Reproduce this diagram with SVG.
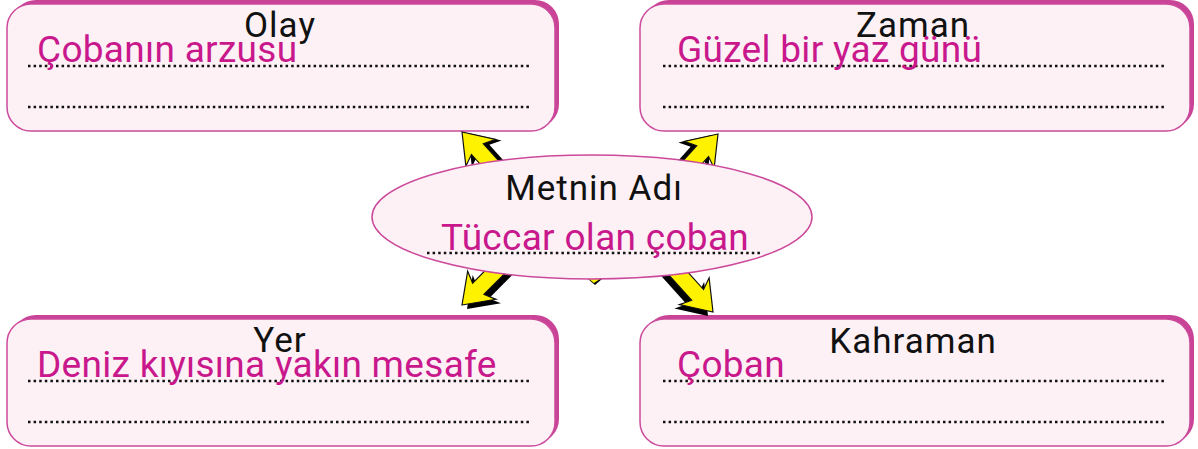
<svg xmlns="http://www.w3.org/2000/svg" width="1198" height="449" viewBox="0 0 1198 449">
<style>
.shadow{fill:#c94397;}
.box{fill:#fdf1f6;stroke:#cc4a9c;stroke-width:1.5;}
.title{font-family:Roboto,"Noto Sans",sans-serif;font-size:35px;fill:#111;text-anchor:middle;letter-spacing:1px;}
.ans{font-family:Roboto,"Noto Sans",sans-serif;font-size:37px;fill:#c8188c;letter-spacing:0.3px;}
.dots{stroke:#111;stroke-width:2.5;stroke-dasharray:2.5 3.1;fill:none;}
.ay{fill:#fff200;stroke:#111;stroke-width:1.2;stroke-linejoin:miter;}
.ab{fill:#000;}
</style>
<defs>
<path id="arr" d="M0,0 L-28,-20 L-23,-8 L-62,-8 L-62,8 L-23,8 L-28,20 Z"/>
</defs>
<g id="olay">
<rect class="shadow" x="12" y="0" width="547" height="128" rx="24"/>
<rect class="box" x="7" y="4" width="548" height="127" rx="24"/>
<text class="title" x="280" y="37">Olay</text>
<line class="dots" x1="28" y1="66" x2="532" y2="66"/>
<line class="dots" x1="28" y1="107" x2="532" y2="107"/>
<text class="ans" x="37" y="62">Çobanın arzusu</text>
</g>
<g id="zaman">
<rect class="shadow" x="645" y="0" width="549" height="128" rx="24"/>
<rect class="box" x="640" y="4" width="550" height="127" rx="24"/>
<text class="title" x="913" y="37">Zaman</text>
<line class="dots" x1="663" y1="66" x2="1167" y2="66"/>
<line class="dots" x1="663" y1="107" x2="1167" y2="107"/>
<text class="ans" x="677" y="62">Güzel bir yaz günü</text>
</g>
<g id="yer">
<rect class="shadow" x="12" y="315" width="547" height="128" rx="24"/>
<rect class="box" x="7" y="319" width="548" height="127" rx="24"/>
<text class="title" x="280" y="352">Yer</text>
<line class="dots" x1="28" y1="381" x2="532" y2="381"/>
<line class="dots" x1="28" y1="422" x2="532" y2="422"/>
<text class="ans" x="37" y="377">Deniz kıyısına yakın mesafe</text>
</g>
<g id="kahraman">
<rect class="shadow" x="645" y="315" width="549" height="128" rx="24"/>
<rect class="box" x="640" y="319" width="550" height="127" rx="24"/>
<text class="title" x="913" y="353">Kahraman</text>
<line class="dots" x1="663" y1="381" x2="1167" y2="381"/>
<line class="dots" x1="663" y1="422" x2="1167" y2="422"/>
<text class="ans" x="677" y="377">Çoban</text>
</g>
<g id="connectors">
<use href="#arr" class="ab" transform="translate(468,133) rotate(228)"/>
<use href="#arr" class="ay" transform="translate(462,132) rotate(228)"/>
<use href="#arr" class="ab" transform="translate(712,135) rotate(-48)"/>
<use href="#arr" class="ay" transform="translate(718,134) rotate(-48)"/>
<use href="#arr" class="ab" transform="translate(467,309) rotate(135)"/>
<use href="#arr" class="ay" transform="translate(462,305) rotate(135)"/>
<use href="#arr" class="ab" transform="translate(708,316) rotate(48)"/>
<use href="#arr" class="ay" transform="translate(713,312) rotate(48)"/>
<polygon points="588,279 602,279 595,285" fill="#000"/>
<polygon points="589,279 600,279 594,283" fill="#fff200"/>
</g>
<g id="metnin-adi">
<ellipse class="box" cx="592" cy="217" rx="220" ry="62"/>
<text class="title" x="594" y="200">Metnin Adı</text>
<line class="dots" x1="427" y1="253" x2="762" y2="253"/>
<text class="ans" x="441" y="250">Tüccar olan çoban</text>
</g>
</svg>
